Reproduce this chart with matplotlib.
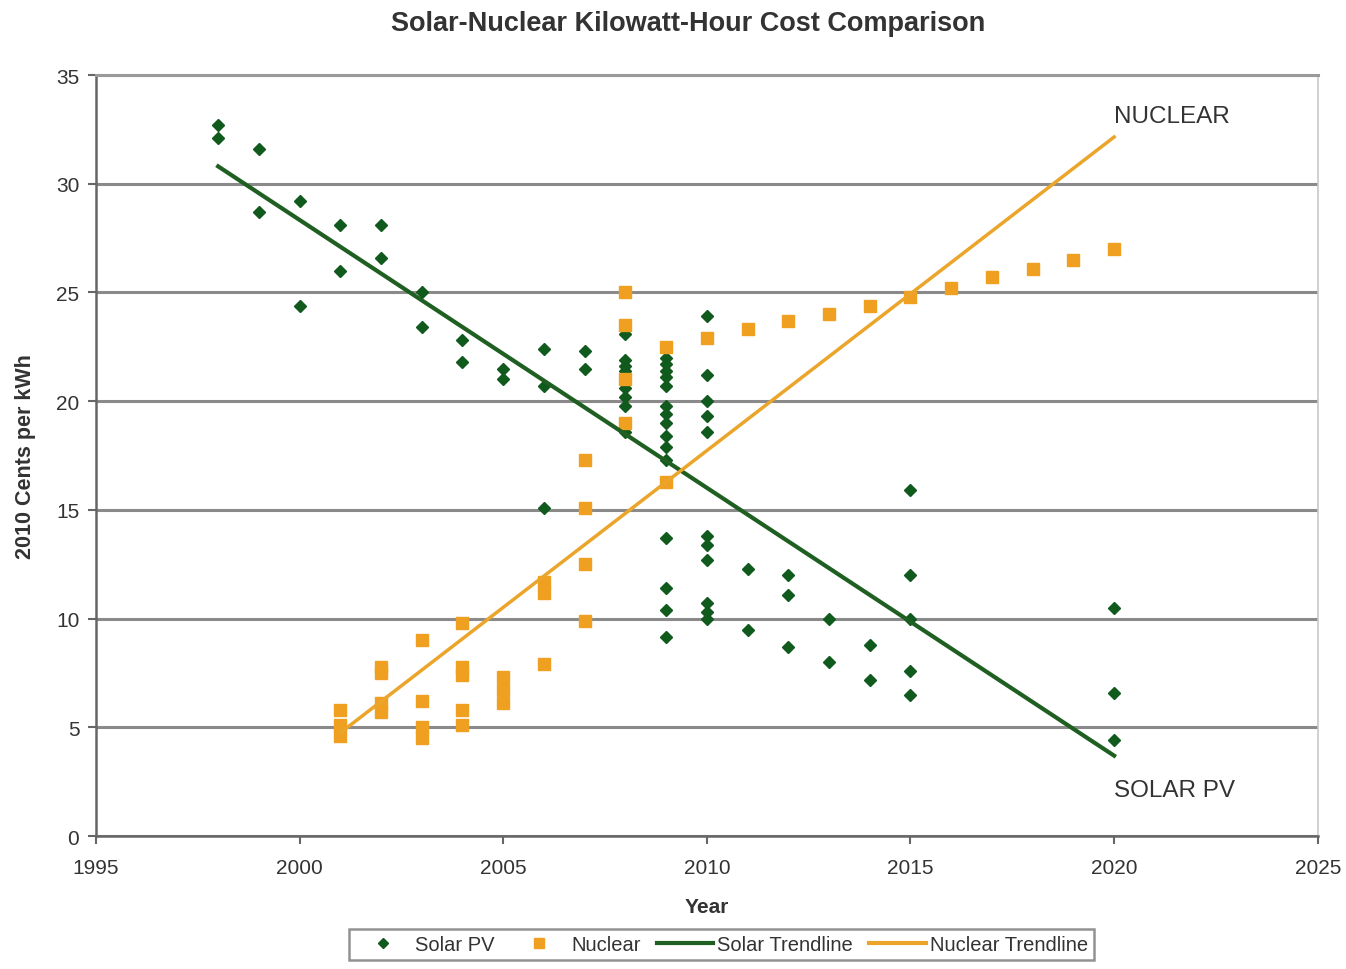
import matplotlib.pyplot as plt
from matplotlib.lines import Line2D

plt.rcParams['font.family'] = ['Liberation Sans', 'DejaVu Sans']

# ---- data ----
solar_years = [1998, 1998, 1999, 1999, 2000, 2000, 2001, 2001, 2002, 2002,
               2003, 2003, 2004, 2004, 2005, 2005, 2006, 2006, 2006, 2007, 2007,
               2008, 2008, 2008, 2008, 2008, 2008, 2008, 2008,
               2009, 2009, 2009, 2009, 2009, 2009, 2009, 2009, 2009, 2009, 2009,
               2009, 2009, 2009, 2009,
               2010, 2010, 2010, 2010, 2010, 2010, 2010, 2010, 2010, 2010, 2010,
               2011, 2011, 2012, 2012, 2012, 2013, 2013, 2014, 2014,
               2015, 2015, 2015, 2015, 2015, 2020, 2020, 2020]
solar_cost = [32.7, 32.1, 31.6, 28.7, 29.2, 24.4, 28.1, 26.0, 28.1, 26.6,
              25.0, 23.4, 22.8, 21.8, 21.5, 21.0, 22.4, 20.7, 15.1, 22.3, 21.5,
              23.1, 21.9, 21.6, 21.4, 20.6, 20.2, 19.8, 18.6,
              22.0, 21.7, 21.4, 21.1, 20.7, 19.8, 19.4, 19.0, 18.4, 17.9, 17.3,
              13.7, 11.4, 10.4, 9.15,
              23.9, 21.2, 20.0, 19.3, 18.6, 13.8, 13.4, 12.7, 10.7, 10.3, 10.0,
              12.3, 9.5, 12.0, 11.1, 8.7, 10.0, 8.0, 8.8, 7.2,
              15.9, 12.0, 10.0, 7.6, 6.5, 10.5, 6.6, 4.4]

nuclear_years = [2001, 2001, 2001, 2002, 2002, 2002, 2002, 2003, 2003, 2003, 2003,
                 2004, 2004, 2004, 2004, 2004, 2005, 2005, 2005, 2006, 2006, 2006,
                 2007, 2007, 2007, 2007, 2008, 2008, 2008, 2008, 2009, 2009,
                 2010, 2011, 2012, 2013, 2014, 2015, 2016, 2017, 2018, 2019, 2020]
nuclear_cost = [5.8, 5.1, 4.6, 7.8, 7.5, 6.1, 5.7, 9.0, 6.2, 5.0, 4.5,
                9.8, 7.8, 7.4, 5.8, 5.1, 7.3, 6.7, 6.1, 11.7, 11.2, 7.9,
                17.3, 15.1, 12.5, 9.9, 25.0, 23.5, 21.0, 19.0, 22.5, 16.3,
                22.9, 23.3, 23.7, 24.0, 24.4, 24.8, 25.2, 25.7, 26.1, 26.5, 27.0]

solar_trend_x = [1998, 2020]
solar_trend_y = [30.8, 3.7]
nuclear_trend_x = [2001, 2020]
nuclear_trend_y = [4.75, 32.15]

GREEN = '#0f5a1c'
GREEN_LINE = '#1f5f22'
ORANGE = '#f0a020'
ORANGE_LINE = '#eaa52a'
TXT = '#333333'

fig = plt.figure(figsize=(13.46, 9.70), dpi=100)
ax = fig.add_axes([0.0713, 0.137, 0.9077, 0.7846])

ax.plot(solar_years, solar_cost, linestyle='none', marker='D', ms=6.5,
        color=GREEN, zorder=3)
ax.plot(nuclear_years, nuclear_cost, linestyle='none', marker='s', ms=8,
        color=ORANGE, zorder=3)
ax.plot(solar_trend_x, solar_trend_y, color=GREEN_LINE, lw=3, zorder=4)
ax.plot(nuclear_trend_x, nuclear_trend_y, color=ORANGE_LINE, lw=2.5, zorder=4)

ax.set_xlim(1995, 2025)
ax.set_ylim(0, 35)
ax.set_xticks(range(1995, 2026, 5))
ax.set_yticks(range(0, 36, 5))

# horizontal gridlines
ax.yaxis.grid(True, color='#8a8a8a', lw=2.2)
ax.set_axisbelow(True)

for s in ['left', 'bottom']:
    ax.spines[s].set_color('#666666')
    ax.spines[s].set_linewidth(1.8)
ax.spines['top'].set_color('#9a9a9a')
ax.spines['top'].set_linewidth(2.2)
ax.spines['right'].set_color('#c8c8c8')
ax.spines['right'].set_linewidth(1.2)

ax.tick_params(axis='both', direction='out', length=6, width=1.5,
               color='#666666', labelsize=15, labelcolor=TXT)
ax.tick_params(axis='x', pad=10)
ax.tick_params(axis='y', pad=6)

ax.set_xlabel('Year', fontsize=15, fontweight='bold', color=TXT, labelpad=14)
ax.set_ylabel('2010 Cents per kWh', fontsize=15.5, fontweight='bold', color=TXT,
              labelpad=14)
fig.text(0.511, 0.975, 'Solar-Nuclear Kilowatt-Hour Cost Comparison',
         fontsize=19.5, fontweight='bold', color=TXT, ha='center', va='center')

ax.text(2020, 33.1, 'NUCLEAR', fontsize=17.5, color=TXT, ha='left', va='center')
ax.text(2020, 2.1, 'SOLAR PV', fontsize=17.5, color=TXT, ha='left', va='center')

handles = [
    Line2D([], [], linestyle='none', marker='D', ms=5.5, color=GREEN),
    Line2D([], [], linestyle='none', marker='s', ms=7, color=ORANGE),
    Line2D([], [], color=GREEN_LINE, lw=3),
    Line2D([], [], color=ORANGE_LINE, lw=3),
]
labels = ['Solar PV', 'Nuclear', 'Solar Trendline', 'Nuclear Trendline']
leg = fig.legend(handles, labels, loc='center', bbox_to_anchor=(0.536, 0.025),
                 ncol=4, fontsize=14.5, frameon=True, fancybox=False,
                 edgecolor='#777777', handlelength=2.8, handletextpad=0.2,
                 columnspacing=0.8, borderpad=0.3, labelcolor=TXT)
leg.get_frame().set_linewidth(1.8)

fig.savefig('out.png', dpi=100)
